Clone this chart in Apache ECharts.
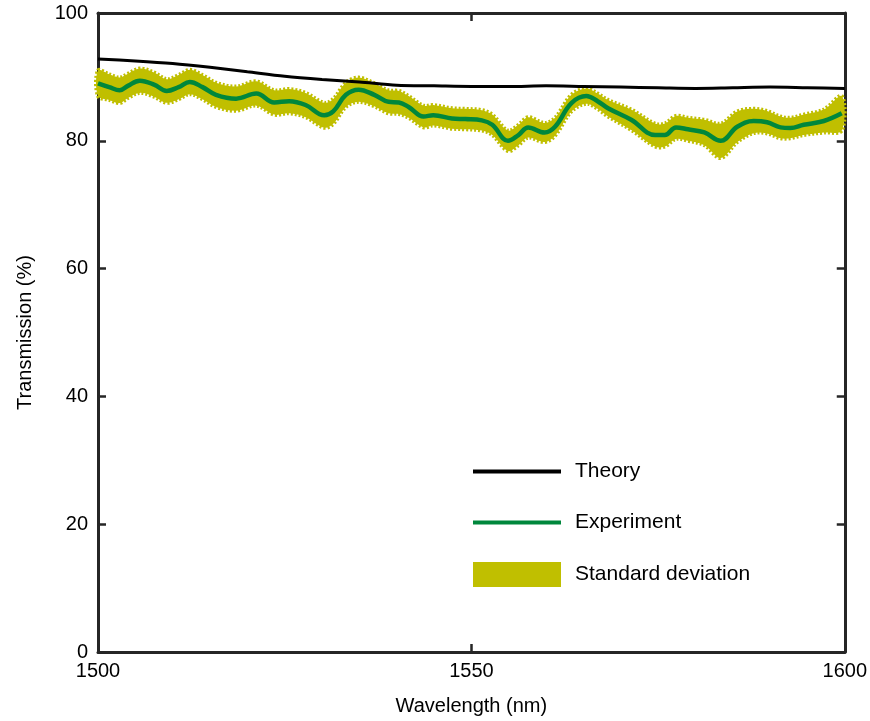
<!DOCTYPE html>
<html>
<head>
<meta charset="utf-8">
<script src="https://cdn.jsdelivr.net/npm/echarts@6/dist/echarts.min.js"></script>
<style>html,body{margin:0;padding:0;background:#fff;overflow:hidden}#chart{width:870px;height:721px}</style>
</head>
<body>
<div id="chart"></div>
<script>
// Theory curve
const theoryWavelength = [1500,1505,1510,1515,1520,1525,1530,1535,1540,1545,1550,1555,1560,1565,1570,1575,1580,1585,1590,1595,1600];
const theoryValues = [92.8,92.5,92.1,91.5,90.8,90.1,89.6,89.2,88.7,88.6,88.5,88.5,88.6,88.5,88.4,88.3,88.2,88.3,88.4,88.3,88.2];

// Experiment curve and standard deviation
const expWavelength = [1500,1501.5,1502.9,1504,1505.6,1507.5,1509.2,1510.8,1512.3,1514,1515.8,1518.5,1521.2,1523.6,1525.6,1527.8,1530.3,1531.5,1533.2,1534.9,1537,1538.9,1540.3,1541.6,1543.6,1544.9,1547.4,1549.2,1551.4,1552.8,1554.9,1556.3,1557.6,1559.8,1561.2,1563.4,1565.4,1566.9,1568.3,1571.4,1574.6,1575.9,1577.4,1579,1581.2,1583.4,1585.6,1587.8,1589.6,1591.4,1592.7,1594.5,1597.2,1599.6];
const expValues = [89.0,88.4,87.9,88.6,89.4,88.8,87.8,88.4,89.2,88.4,87.2,86.6,87.4,86.0,86.2,85.6,84.0,84.6,87.2,88.0,87.2,86.1,86.0,85.3,83.8,84.0,83.5,83.4,83.2,82.5,80.0,80.9,82.1,81.3,82.2,85.9,87.0,86.2,85.1,83.3,80.9,80.9,82.1,81.8,81.3,80.0,82.2,83.1,82.9,82.1,82.0,82.5,83.1,84.3];
const expStd = [2.0,2.0,2.0,1.9,1.9,1.9,1.85,1.9,1.9,1.9,1.9,1.9,1.9,1.9,1.9,1.9,1.95,1.95,1.9,1.9,1.8,1.8,1.8,1.7,1.7,1.6,1.6,1.6,1.6,1.6,1.6,1.6,1.6,1.5,1.4,1.3,1.2,1.2,1.3,1.6,1.8,1.8,1.8,1.8,2.0,2.7,2.4,1.9,1.75,1.7,1.6,1.6,1.8,2.7];

// Axis settings
const xTicks = [1500,1550,1600];
const yTicks = [0,20,40,60,80,100];
const legendNames = ['Theory','Experiment','Standard deviation'];

const FONT = '"Liberation Sans", Arial, sans-serif';
const AX = '#262626';
const YEL = '#c0bf00';
const GRN = '#00873c';

const theoryData = theoryWavelength.map((x,i)=>[x,theoryValues[i]]);
const expData = expWavelength.map((x,i)=>[x,expValues[i]]);
const bandData = expWavelength.map((x,i)=>[x,expValues[i]-expStd[i],expValues[i]+expStd[i]]);

const chart = echarts.init(document.getElementById('chart'), null, {renderer:'canvas'});
const axisCommon = {
  axisLine:{show:true,onZero:false,lineStyle:{color:AX,width:3}},
  axisTick:{show:true,inside:true,length:8,lineStyle:{color:AX,width:2.5}},
  splitLine:{show:false}
};
function bandRender(params, api){
  if (params.dataIndex !== 0) return null;
  const upper = bandData.map(d=>api.coord([d[0],d[2]]));
  const lower = bandData.map(d=>api.coord([d[0],d[1]])).reverse();
  return {
    type:'polygon',shape:{points:upper.concat(lower),smooth:0.35},
    style:{fill:YEL,stroke:YEL,lineWidth:4,lineDash:[2,2]}
  };
}
chart.setOption({
  animation:false,
  grid:{left:98,right:22,top:13,bottom:69,containLabel:false},
  xAxis:[
    Object.assign({type:'value',min:xTicks[0],max:xTicks[xTicks.length-1],interval:50,position:'bottom',
      name:'Wavelength (nm)',nameLocation:'middle',nameGap:44,
      nameTextStyle:{fontFamily:FONT,fontSize:20,color:'#000'},
      axisLabel:{fontFamily:FONT,fontSize:20,color:'#000',margin:9,formatter:v=>String(v)}},axisCommon),
    Object.assign({type:'value',min:xTicks[0],max:xTicks[xTicks.length-1],interval:50,position:'top',
      axisLabel:{show:false}},axisCommon)
  ],
  yAxis:[
    Object.assign({type:'value',min:yTicks[0],max:yTicks[yTicks.length-1],interval:20,position:'left',
      name:'Transmission (%)',nameLocation:'middle',nameGap:63,
      nameTextStyle:{fontFamily:FONT,fontSize:20,color:'#000'},
      axisLabel:{fontFamily:FONT,fontSize:20,color:'#000',margin:10,formatter:v=>String(v)}},axisCommon),
    Object.assign({type:'value',min:yTicks[0],max:yTicks[yTicks.length-1],interval:20,position:'right',
      axisLabel:{show:false}},axisCommon)
  ],
  legend:[
    {orient:'vertical',left:473,top:461,padding:0,itemWidth:88,itemHeight:4,itemGap:30,icon:'rect',
      textStyle:{fontFamily:FONT,fontSize:21,color:'#000',padding:[0,0,0,9]},
      data:[legendNames[0],legendNames[1]]},
    {orient:'vertical',left:473,top:562,padding:0,itemWidth:88,itemHeight:25,icon:'rect',
      textStyle:{fontFamily:FONT,fontSize:21,color:'#000',padding:[0,0,0,9]},
      data:[{name:legendNames[2],itemStyle:{color:YEL}}]}
  ],
  series:[
    {name:legendNames[2],type:'custom',renderItem:bandRender,data:bandData,
      encode:{x:0,y:[1,2]},itemStyle:{color:YEL},z:2,silent:true},
    {name:legendNames[0],type:'line',data:theoryData,smooth:0.3,symbol:'none',
      lineStyle:{color:'#000',width:3},itemStyle:{color:'#000'},z:3},
    {name:legendNames[1],type:'line',data:expData,smooth:0.4,symbol:'none',
      lineStyle:{color:GRN,width:4.5},itemStyle:{color:GRN},z:4}
  ]
});
</script>
</body>
</html>
